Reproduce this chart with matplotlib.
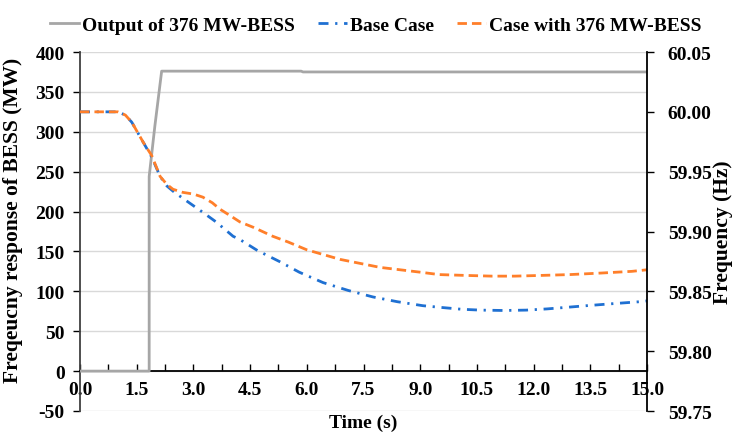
import matplotlib
matplotlib.use("Agg")
import matplotlib.pyplot as plt
import numpy as np
from matplotlib.ticker import MultipleLocator, FixedLocator

plt.rcParams['font.family'] = ['Liberation Serif', 'DejaVu Serif']
plt.rcParams['font.weight'] = 'bold'
plt.rcParams['axes.labelweight'] = 'bold'

# BESS output (MW)
t_bess = [0, 1.83, 1.83, 1.98, 2.16, 5.85, 5.9, 15.0]
p_bess = [0, 0, 244, 307, 376, 376, 375, 375]

# Base case frequency (Hz)
t_base = [0, 1.0, 1.2, 1.37, 1.67, 1.9, 2.12, 2.3, 2.5, 2.8, 3.25, 3.6, 4.05, 4.23, 4.7,
          5.29, 5.8, 6.43, 7.1, 7.75, 8.4, 9.07, 9.5, 10.1, 10.6, 11.2, 11.8, 12.35, 12.9,
          13.4, 14.1, 14.8, 15.0]
f_base = [60.0, 60.0, 59.9973, 59.9913, 59.9747, 59.962, 59.946, 59.938, 59.9327, 59.926,
          59.916, 59.908, 59.896, 59.8933, 59.884, 59.8747, 59.866, 59.8573, 59.8507,
          59.8453, 59.8413, 59.838, 59.8367, 59.835, 59.8343, 59.834, 59.8343, 59.8353,
          59.8367, 59.838, 59.8397, 59.8413, 59.842]

# Case with 376 MW-BESS frequency (Hz)
t_bess_case = [0, 1.0, 1.2, 1.37, 1.67, 1.9, 2.12, 2.3, 2.46, 2.72, 3.0, 3.25, 3.5, 3.7, 4.0,
               4.23, 4.6, 5.1, 5.5, 6.0, 6.88, 7.94, 9.0, 9.5, 10.2, 10.9, 11.5, 12.2, 12.96,
               13.8, 14.6, 15.0]
f_bess_case = [60.0, 60.0, 59.9973, 59.9913, 59.9747, 59.9633, 59.946, 59.9393, 59.9353,
               59.9327, 59.9313, 59.9287, 59.924, 59.9187, 59.9127, 59.908, 59.9033, 59.896,
               59.8913, 59.8847, 59.8767, 59.87, 59.866, 59.864, 59.8633, 59.8627, 59.8627,
               59.8633, 59.864, 59.8653, 59.8667, 59.868]

labels = ["Output of 376 MW-BESS", "Base Case", "Case with 376 MW-BESS"]
x_ticks = [0.0, 1.5, 3.0, 4.5, 6.0, 7.5, 9.0, 10.5, 12.0, 13.5, 15.0]
yl_ticks = [-50, 0, 50, 100, 150, 200, 250, 300, 350, 400]
yr_ticks = [59.75, 59.80, 59.85, 59.90, 59.95, 60.00, 60.05]

c_gray = '#a6a6a6'
c_blue = '#1f70d2'
c_orange = '#ff7f2a'

fig = plt.figure(figsize=(7.41, 4.35), dpi=100)
ax = fig.add_axes([80/741, 1-412/435, (647-80)/741, (412-53)/435])
ax2 = ax.twinx()

ax.set_xlim(0, 15)
ax.set_ylim(-50, 400)
ax2.set_ylim(59.75, 60.05)

ax.yaxis.set_major_locator(FixedLocator(yl_ticks))
ax.set_yticklabels([str(v) for v in yl_ticks])
ax2.yaxis.set_major_locator(FixedLocator(yr_ticks))
ax2.set_yticklabels([f"{v:.2f}" for v in yr_ticks])
ax.xaxis.set_major_locator(FixedLocator(x_ticks))
ax.set_xticklabels([f"{v:.1f}" for v in x_ticks])
ax.xaxis.set_minor_locator(MultipleLocator(0.75))

ax.grid(axis='y', color='#d9d9d9', linewidth=1.0, zorder=0)
ax.set_axisbelow(True)

ax.spines['top'].set_visible(False)
ax2.spines['top'].set_visible(False)
ax2.spines['bottom'].set_visible(False)
ax2.spines['left'].set_visible(False)
ax.spines['right'].set_visible(False)
ax.spines['bottom'].set_position(('data', 0))
ax.spines['bottom'].set_color('black')
ax.spines['bottom'].set_linewidth(1.3)
ax.spines['left'].set_color('#404040')
ax.spines['left'].set_linewidth(1.3)
ax2.spines['right'].set_color('black')
ax2.spines['right'].set_linewidth(1.3)

ax.tick_params(axis='x', which='both', direction='in', length=5, width=1.0, labelsize=14, pad=7)
ax.tick_params(axis='y', direction='out', length=5, width=1.0, labelsize=14, pad=6)
ax2.tick_params(axis='y', direction='out', length=5, width=1.0, labelsize=14, pad=10)

l1, = ax.plot(t_bess, p_bess, color=c_gray, linewidth=2.0, zorder=3, label=labels[0])
l2, = ax2.plot(t_base, f_base, color=c_blue, linewidth=2.0, dashes=(3.6, 2.4, 0.8, 2.4),
               label=labels[1])
l3, = ax2.plot(t_bess_case, f_bess_case, color=c_orange, linewidth=2.0, dashes=(3.4, 1.8),
               label=labels[2])

ax.set_xlabel("Time (s)", fontsize=14, va='top')
ax.xaxis.set_label_coords(0.5, -0.008)
ax.set_ylabel("Freqeucny response of BESS (MW)", fontsize=15.5)
ax.yaxis.set_label_coords(-0.1, 0.535)
ax2.set_ylabel("Frequency (Hz)", fontsize=15.5, labelpad=1)

leg = fig.legend(handles=[l1, l2, l3], labels=labels, loc='upper center', ncol=3,
                 bbox_to_anchor=(0.507, 1.0), frameon=False, fontsize=14,
                 handlelength=1.5, handletextpad=0.15, columnspacing=1.2)

fig.savefig("out.png", dpi=100)
